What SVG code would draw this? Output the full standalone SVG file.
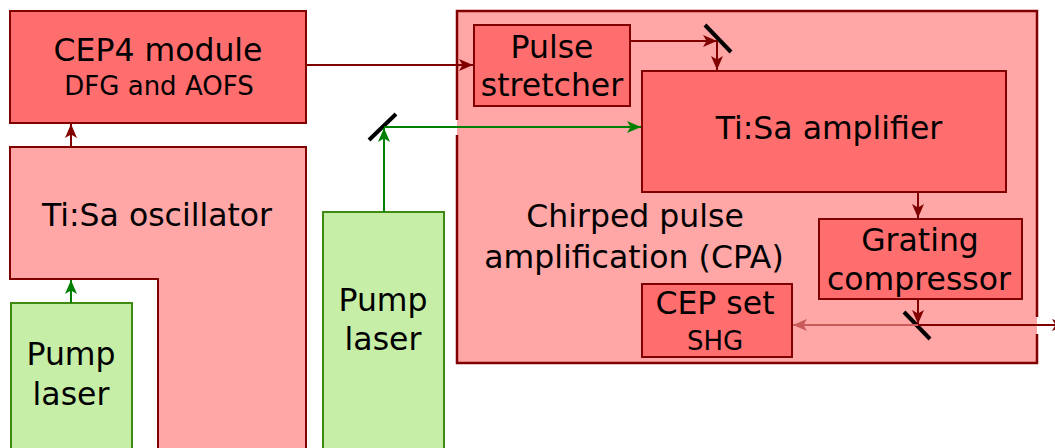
<svg xmlns="http://www.w3.org/2000/svg" width="1055" height="448" viewBox="0 0 1055 448">
<style>
.t{font-family:"DejaVu Sans",Verdana,sans-serif;fill:#000;text-anchor:middle}
.big{font-size:31.5px}
.sm{font-size:26px}
.dark{fill:#ff6e6e;stroke:#800000;stroke-width:2}
.light{fill:#ffa6a6;stroke:#800000;stroke-width:2}
.pump{fill:#c6eea6;stroke:#3f8a10;stroke-width:2}
.cr{fill:none;stroke:#800000;stroke-width:2}
.cg{fill:none;stroke:#008000;stroke-width:2}
.cl{fill:none;stroke:#c85a5a;stroke-width:2}
.mir{stroke:#000;stroke-width:4}
</style>
<defs>
<marker id="ar" viewBox="-14 -7 15 14" refX="0" refY="0" markerWidth="15" markerHeight="14" markerUnits="userSpaceOnUse" orient="auto"><path d="M0,0 L-14,-6 L-10.5,0 L-14,6 Z" fill="#800000"/></marker>
<marker id="ag" viewBox="-14 -7 15 14" refX="0" refY="0" markerWidth="15" markerHeight="14" markerUnits="userSpaceOnUse" orient="auto"><path d="M0,0 L-14,-6 L-10.5,0 L-14,6 Z" fill="#008000"/></marker>
<marker id="al" viewBox="-14 -7 15 14" refX="0" refY="0" markerWidth="15" markerHeight="14" markerUnits="userSpaceOnUse" orient="auto"><path d="M0,0 L-14,-6 L-10.5,0 L-14,6 Z" fill="#c85a5a"/></marker>
</defs>

<g id="cpa">
<rect x="457" y="11" width="580" height="352" fill="#ffa6a6"/>
<path d="M457,120 V11 H1037 V317 M1037,334 V363 H457 V135" fill="none" stroke="#800000" stroke-width="2.5"/>
<text class="t big" x="635" y="227">Chirped pulse</text>
<text class="t big" x="634" y="268">amplification (CPA)</text>
</g>

<g id="cep4">
<rect class="dark" x="10" y="11" width="296" height="112"/>
<text class="t big" x="158" y="61">CEP4 module</text>
<text class="t sm" x="159" y="95">DFG and AOFS</text>
</g>

<g id="oscillator">
<path class="light" d="M10,147 H306 V452 H158 V279 H10 Z"/>
<text class="t big" x="157" y="226">Ti:Sa oscillator</text>
</g>

<g id="pump1">
<rect class="pump" x="11" y="303" width="121" height="150"/>
<text class="t big" x="71" y="365">Pump</text>
<text class="t big" x="71" y="405">laser</text>
</g>

<g id="pump2">
<rect class="pump" x="323" y="212" width="121" height="241"/>
<text class="t big" x="383" y="311">Pump</text>
<text class="t big" x="383" y="350">laser</text>
</g>

<g id="stretcher">
<rect class="dark" x="474" y="25" width="156" height="81"/>
<text class="t big" x="552" y="58">Pulse</text>
<text class="t big" x="552" y="96">stretcher</text>
</g>

<g id="amplifier">
<rect class="dark" x="642" y="71" width="364" height="121"/>
<text class="t big" x="829" y="139">Ti:Sa amplifier</text>
</g>

<g id="compressor">
<rect class="dark" x="819" y="219" width="203" height="80"/>
<text class="t big" x="920" y="251">Grating</text>
<text class="t big" x="919" y="290">compressor</text>
</g>

<g id="cepset">
<rect class="dark" x="642" y="284" width="150" height="73"/>
<text class="t big" x="715" y="314">CEP set</text>
<text class="t sm" x="715" y="350">SHG</text>
</g>

<g id="mirrors">
<line class="mir" x1="369" y1="140" x2="396" y2="114"/>
<line class="mir" x1="705" y1="25" x2="731" y2="52"/>
<line class="mir" x1="904" y1="312" x2="930" y2="339"/>
</g>

<g id="connectors">
<line class="cr" x1="71" y1="147" x2="71" y2="124" marker-end="url(#ar)"/>
<line class="cg" x1="71" y1="303" x2="71" y2="280" marker-end="url(#ag)"/>
<line class="cr" x1="306" y1="65" x2="473" y2="65" marker-end="url(#ar)"/>
<line class="cr" x1="630" y1="41" x2="717" y2="41" marker-end="url(#ar)"/>
<line class="cr" x1="717" y1="41" x2="717" y2="70" marker-end="url(#ar)"/>
<line class="cg" x1="384" y1="212" x2="384" y2="128" marker-end="url(#ag)"/>
<line class="cg" x1="384" y1="127" x2="641" y2="127" marker-end="url(#ag)"/>
<line class="cr" x1="918" y1="193" x2="918" y2="218" marker-end="url(#ar)"/>
<line class="cr" x1="918" y1="299" x2="918" y2="324" marker-end="url(#ar)"/>
<line class="cl" x1="918" y1="325" x2="793" y2="325" marker-end="url(#al)"/>
<line class="cr" x1="918" y1="325" x2="1066" y2="325" marker-end="url(#ar)"/>
</g>
</svg>
